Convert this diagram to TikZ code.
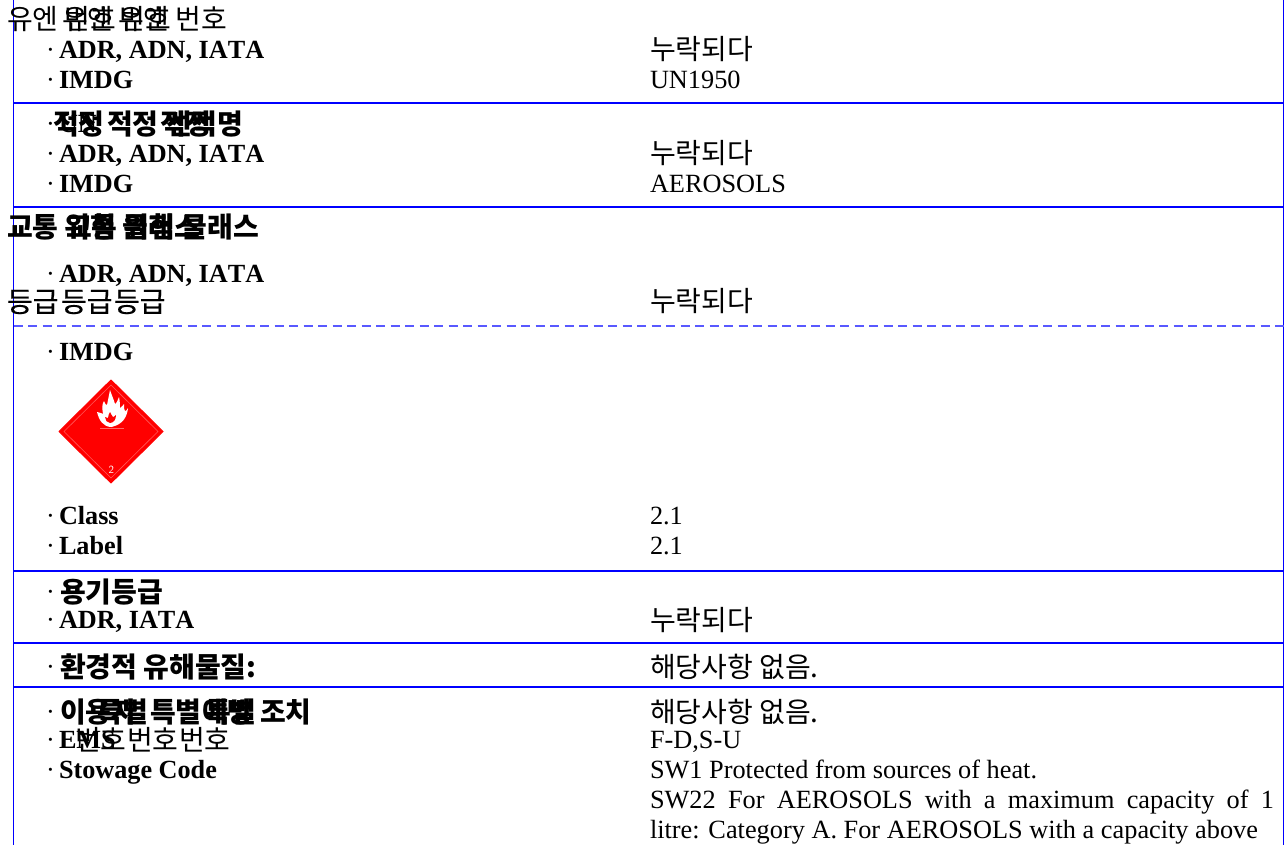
\documentclass[tikz,border=0pt]{standalone}
\usepackage{fontspec}
\setmainfont{Liberation Serif}[BoldFeatures={Kerning=Off}]
\newfontfamily\kr{Noto Sans CJK KR}
\newfontfamily\krm{Noto Sans CJK KR}[FakeBold=0.6]
\definecolor{rule}{RGB}{0,0,255}
\tikzset{
  every node/.style={inner sep=0pt,outer sep=0pt,anchor=base west,text=black},
  rm/.style={font=\fontsize{26.3}{30}\selectfont},
  bd/.style={font=\fontsize{26.2}{30}\selectfont\bfseries},
  ko/.style={font=\fontsize{28}{30}\selectfont\kr},
  kom/.style={font=\fontsize{28}{30}\selectfont\krm},
  kob/.style={font=\fontsize{28}{30}\selectfont\kr\bfseries},
  rulew/.style={draw=rule,line width=1.8pt},
  dashrule/.style={draw=rule!65,line width=1.2pt,dash pattern=on 9pt off 5.5pt},
}
\begin{document}
\begin{tikzpicture}[x=1pt,y=-1pt]
\useasboundingbox (0,0) rectangle (1286,845);
\path[fill=white] (0,0) rectangle (1286,845);
% frame
\draw[rulew] (13.5,0) -- (13.5,845);
\draw[rulew] (1283.5,0) -- (1283.5,845);
\foreach \yy in {103,207,571,643,687} \draw[rulew] (13.5,\yy) -- (1283.5,\yy);
\draw[dashrule] (13.5,326) -- (1286,326);
% row 1
\node[ko] (a1) at (7,30) {유엔 번호};
\node[ko] (a2) at (62,30) {유엔 번호};
\node[ko] (a3) at (118,30) {유엔 번호};
\node[rm] (d1) at (46,59) {·};\node[bd] (b1) at (59,59) {ADR, ADN, IATA};
\node[ko] (c1) at (650,60) {누락되다};
\node[rm] (d2) at (46,89) {·};\node[bd] (b2) at (59,89) {IMDG};
\node[rm] (c2) at (650,89) {UN1950};
% row 2
\node[rm] (d3) at (46,133) {·};
\node[bd] (u1) at (59,133) {UN};
\node[kob] (e1) at (53,135) {적정};
\node[kob] (e2) at (107,135) {적정};
\node[kob] (e3) at (160,135) {적정};
\node[kob] (e4) at (166,135) {선적명};
\node[rm] (d4) at (46,163) {·};\node[bd] (b3) at (59,163) {ADR, ADN, IATA};
\node[ko] (c3) at (650,164) {누락되다};
\node[rm] (d5) at (46,193) {·};\node[bd] (b4) at (59,193) {IMDG};
\node[rm] (c4) at (650,193) {AEROSOLS};
% row 3
\node[kob] (f1) at (7,238) {교통 위험 클래스};
\node[kob] (f2) at (66,238) {교통 위험 클래스};
\node[rm] (d6) at (46,283) {·};\node[bd] (b5) at (59,283) {ADR, ADN, IATA};
\node[kom] (g1) at (7,312) {등급};
\node[kom] (g2) at (61,312) {등급};
\node[kom] (g3) at (114,312) {등급};
\node[ko] (c5) at (650,312) {누락되다};
\node[rm] (d7) at (46,360) {·};\node[bd] (b6) at (59,360) {IMDG};
% hazard label
\path[fill=red,draw=red,line width=1pt,line join=round] (111,380) -- (163,431.5) -- (111,483) -- (59,431.5) -- cycle;
\draw[white!35!red,line width=.6pt] (111,385) -- (158,431.5) -- (111,478) -- (64,431.5) -- cycle;
\fill[white] (111.5,427) .. controls (103,427) and (99,420) .. (97,412) .. controls (100,413) and (102,413) .. (103,414)
  .. controls (102,408) and (102,404) .. (104,401) .. controls (105,404) and (106,405) .. (107,405)
  .. controls (108,400) and (109,395) .. (110,390) .. controls (112,396) and (114,400) .. (115,404)
  .. controls (117,403) and (118,399) .. (119,397) .. controls (120,402) and (120,405) .. (120,408)
  .. controls (122,407) and (123,405) .. (124,404) .. controls (124,408) and (124,410) .. (125,411)
  .. controls (126,411) and (127,410) .. (128,408) .. controls (127,416) and (124,424) .. (111.5,427) -- cycle;
\fill[red] (110,423) .. controls (107,423) and (105,420) .. (105,417) .. controls (107,418) and (107,418) .. (108,418)
  .. controls (108,416) and (109,414) .. (110,412) .. controls (111,414) and (112,416) .. (113,417)
  .. controls (114,417) and (115,416) .. (116,415) .. controls (116,419) and (114,423) .. (110,423) -- cycle;
\draw[white!40!red,line width=.5pt] (100,428.5) -- (124,428.5);
\node[font=\fontsize{11}{12}\selectfont\sffamily,text=white] (n2) at (108.5,473) {2};
% class, label
\node[rm] (d8) at (46,524) {·};\node[bd] (b7) at (59,524) {Class};
\node[rm] (c6) at (650,524) {2.1};
\node[rm] (d9) at (46,554) {·};\node[bd] (b8) at (59,554) {Label};
\node[rm] (c7) at (650,554) {2.1};
% packing
\node[rm] (d10) at (46,600) {·};\node[kob] (h1) at (60,602) {용기등급};
\node[rm] (d11) at (46,628) {·};\node[bd] (b9) at (59,628) {ADR, IATA};
\node[ko] (c8) at (650,630) {누락되다};
\node[rm] (d12) at (46,675) {·};\node[kob] (h2) at (60,677) {환경적 유해물질:};
\node[ko] (c9) at (650,677) {해당사항 없음.};
% user
\node[rm] (d13) at (46,720) {·};
\node[kob] (i1) at (60,722) {이용자};
\node[kob] (i2) at (97,722) {특별};
\node[kob] (i3) at (150,722) {특별};
\node[kob] (i4) at (202,722) {예방};
\node[kob] (i5) at (205,722) {특별};
\node[kob] (i6) at (260,722) {조치};
\node[ko] (c10) at (650,722) {해당사항 없음.};
\node[rm] (d14) at (46,748) {·};\node[bd] (b10) at (59,748) {EMS};
\node[ko] (j1) at (75,750) {번호};
\node[ko] (j2) at (127,750) {번호};
\node[ko] (j3) at (179,750) {번호};
\node[rm] (c11) at (650,748) {F-D,S-U};
\node[rm] (d15) at (46,778) {·};\node[bd] (b11) at (59,778) {Stowage Code};
\node[rm] (c12) at (650,778) {SW1 Protected from sources of heat.};
\node[rm] (c13) at (650,808) {\makebox[624pt][s]{SW22 For AEROSOLS with a maximum capacity of 1}};
\node[rm] (c14) at (650,838) {\makebox[608pt][s]{litre: Category A. For AEROSOLS with a capacity above}};
\end{tikzpicture}
\end{document}
